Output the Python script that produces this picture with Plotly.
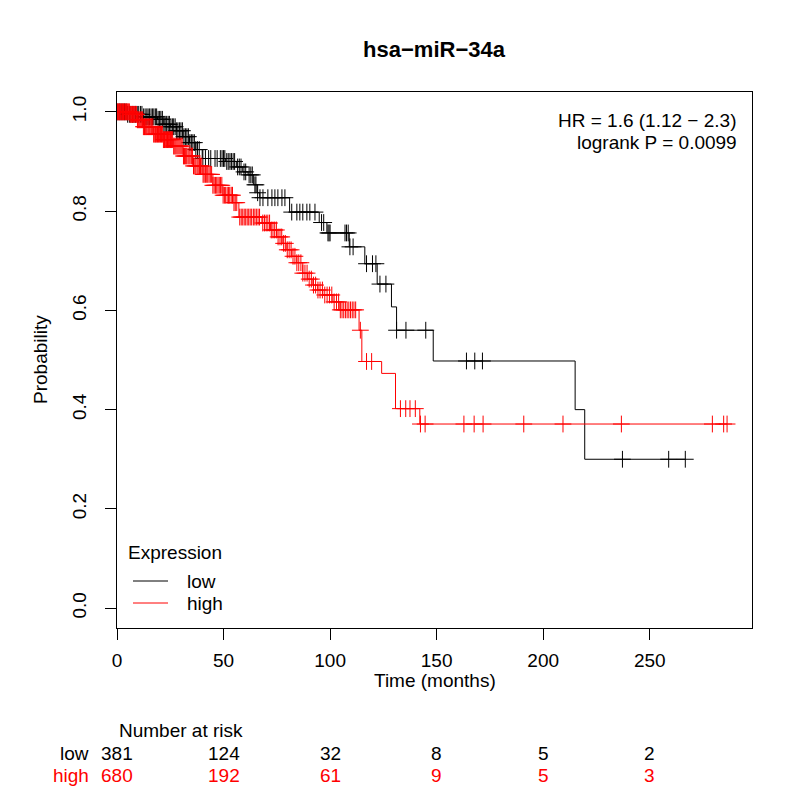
import numpy as np
import plotly.graph_objects as go

# Kaplan-Meier steps (months, survival probability)
low_times = [0, 5, 12, 19, 22, 25, 28, 31, 34, 37, 40, 51, 56, 59, 61.5, 64, 65.7, 67,
             81, 94.9, 98.5, 109.0, 116.3, 122.1, 128.8, 131.2, 148.4, 215.0, 219.5]
low_surv = [1.0, 0.995, 0.99, 0.985, 0.975, 0.97, 0.962, 0.95, 0.938, 0.924, 0.906, 0.9,
            0.889, 0.879, 0.873, 0.853, 0.837, 0.827, 0.798, 0.777, 0.756, 0.728, 0.694, 0.653,
            0.607, 0.560, 0.498, 0.400, 0.300]
low_censor = [0.5, 1.3, 2, 2.8, 3.5, 4.3, 5, 5.8, 6.5, 7.3, 8, 8.7, 9.5, 10.2, 11, 11.7, 12.5,
              13.2, 14, 14.6, 15.3, 16, 16.7, 17.3, 18, 18.6, 19.3, 20, 20.6, 21.3, 22, 22.6,
              23.3, 24, 24.6, 25.3, 26, 26.6, 27.3, 28, 28.6, 29.3, 30, 30.7, 31.4, 32.1, 32.8,
              33.5, 34.2, 34.9, 35.6, 36.3, 37, 37.8, 38.6, 40.3, 41.5, 43, 44, 46, 47, 48.5,
              49.3, 50, 50.6, 51.5, 52.2, 53, 53.7, 54.5, 55.2, 56.6, 57.4, 58.2, 59.6, 60.4,
              62, 62.8, 63.5, 64.7, 65.2, 66, 67.1, 68.5, 70.8, 72.7, 74.1, 75.5, 77.4, 78.8,
              82, 84.4, 85.8, 87.2, 89.1, 90.5, 92.9, 96, 97, 99, 99.5, 100, 107, 107.7, 108.5,
              109.3, 110.8, 117.1, 119.9, 121.5, 123.4, 126.2, 131.2, 135.6, 144.9, 164, 167.9,
              171.5, 237.2, 258.9, 266.7]

high_times = [0, 6, 9.4, 12.2, 16.9, 21.6, 26.3, 31, 35.6, 40.3, 45, 49.7, 54.4, 57.2, 68, 72,
              75, 77.5, 79.7, 82, 84.4, 87.2, 89.5, 91.9, 94.2, 96.6, 101.3, 104.6, 113.6, 114.9,
              124.2, 130.7, 142.1]
high_surv = [1.0, 0.995, 0.984, 0.970, 0.955, 0.944, 0.931, 0.911, 0.891, 0.874, 0.852, 0.832,
             0.817, 0.788, 0.776, 0.762, 0.748, 0.735, 0.722, 0.709, 0.696, 0.675, 0.663, 0.651,
             0.641, 0.631, 0.617, 0.601, 0.560, 0.497, 0.473, 0.402, 0.371]
high_censor = [0.2, 0.5, 0.9, 1.2, 1.6, 1.9, 2.3, 2.6, 3.0, 3.3, 3.7, 4.0, 4.4, 4.8, 5.1, 5.5,
               5.8, 6.2, 6.6, 6.9, 7.3, 7.7, 8.0, 8.4, 8.8, 9.1, 9.6, 10.0, 10.4, 10.8, 11.2,
               11.6, 12.0, 12.4, 12.9, 13.3, 13.7, 14.1, 14.6, 15.0, 15.4, 15.9, 16.3, 16.8,
               17.2, 17.7, 18.1, 18.6, 19.0, 19.5, 19.9, 20.4, 20.9, 21.3, 21.8, 22.3, 22.7,
               23.2, 23.7, 24.2, 24.6, 25.1, 25.6, 26.1, 26.6, 27.1, 27.6, 28.1, 28.6, 29.1,
               29.6, 30.1, 30.6, 31.2, 31.7, 32.2, 32.7, 33.3, 33.8, 34.3, 34.9, 35.4, 35.9,
               36.5, 37.0, 37.6, 38.1, 38.7, 39.2, 39.8, 40.4, 40.9, 41.5, 42.1, 42.6, 43.2,
               43.8, 44.4, 45.0, 45.6, 46.2, 46.8, 47.4, 48.0, 48.6, 49.2, 49.8, 50.4, 51.0,
               51.7, 52.3, 52.9, 53.6, 54.2, 54.9, 55.5, 56.2, 57.6, 58.3, 59.0, 59.7, 60.4,
               61.1, 61.8, 62.5, 63.2, 64.0, 64.7, 65.4, 66.2, 66.9, 68.4, 69.2, 70.0, 70.8,
               71.6, 72.4, 73.2, 74.0, 74.8, 75.6, 76.5, 77.3, 78.2, 79.0, 79.9, 80.8, 81.7,
               82.6, 83.5, 84.4, 85.3, 86.3, 87.2, 88.2, 89.2, 90.2, 91.2, 92.2, 93.2, 94.3,
               95.3, 96.4, 97.5, 98.6, 99.7, 100.8, 101.9, 103.0, 104.0, 104.8, 105.6, 106.4,
               107.2, 108.0, 108.8, 109.6, 110.4, 111.2, 112.0, 114.2, 117.1, 119.5, 133,
               135.5, 137.5, 140, 142.4, 144.6, 162.8, 167.6, 171.8, 190.9, 209.3, 236.7,
               279.4, 284.7, 286.3]

risk_times = [0, 50, 100, 150, 200, 250]
risk_low = [381, 124, 32, 8, 5, 2]
risk_high = [680, 192, 61, 9, 5, 3]

FONT = "Liberation Sans, Arial, sans-serif"
RED = "#FF0000"
FS = 19

# plot box in reference pixels; the page body adds an 8px offset
OFF = 8
PL, PR, PT, PB = 117, 752, 92, 628
PH = PB - PT


def py(pix):
    # reference pixel row -> paper y
    return (PB - pix) / PH


def px(pix):
    return (pix - PL) / (PR - PL)


def step_at(times, surv, t):
    idx = np.searchsorted(np.array(times), np.array(t), side="right") - 1
    return np.array(surv)[idx]


fig = go.Figure()

for name, times, surv, cens, color in [
    ("low", low_times, low_surv, low_censor, "black"),
    ("high", high_times, high_surv, high_censor, RED),
]:
    xs = list(times) + [max(cens)]
    ys = list(surv) + [surv[-1]]
    fig.add_trace(go.Scatter(x=xs, y=ys, mode="lines", line=dict(color=color, width=1, shape="hv"),
                             name=name, showlegend=False, hoverinfo="skip"))
    fig.add_trace(go.Scatter(x=cens, y=step_at(times, surv, cens), mode="markers",
                             marker=dict(symbol="cross-thin", size=12, line=dict(color=color, width=1)),
                             showlegend=False, hoverinfo="skip"))

ann = []
ann.append(dict(text="HR = 1.6 (1.12 − 2.3)", x=px(739), y=py(120), xanchor="right", yanchor="middle"))
ann.append(dict(text="logrank P = 0.0099", x=px(739), y=py(142), xanchor="right", yanchor="middle"))
ann.append(dict(text="Probability", x=px(40), y=0.5, textangle=-90, xanchor="center", yanchor="middle"))
ann.append(dict(text="Time (months)", x=0.5, y=py(680), xanchor="center", yanchor="middle"))
ann.append(dict(text="Number at risk", x=0, y=py(730), xanchor="left", yanchor="middle"))
ann.append(dict(text="low", x=px(91), y=py(753), xanchor="right", yanchor="middle"))
ann.append(dict(text="high", x=px(91), y=py(775), xanchor="right", yanchor="middle", font=dict(color=RED)))
for t, lo, hi in zip(risk_times, risk_low, risk_high):
    ann.append(dict(text=str(lo), x=t, xref="x", y=py(753), xanchor="center", yanchor="middle"))
    ann.append(dict(text=str(hi), x=t, xref="x", y=py(775), xanchor="center", yanchor="middle",
                    font=dict(color=RED)))

# legend drawn by hand, like R's legend()
ann.append(dict(text="Expression", x=px(126), y=py(552), xanchor="left", yanchor="middle"))
shapes = []
for label, color, row in [("low", "black", 581), ("high", RED, 603)]:
    ann.append(dict(text=label, x=px(185), y=py(row), xanchor="left", yanchor="middle"))
    shapes.append(dict(type="line", xref="paper", yref="paper", x0=px(133), x1=px(168),
                       y0=py(row), y1=py(row), line=dict(color=color, width=1)))

for a in ann:
    a.setdefault("xref", "paper")
    a.setdefault("yref", "paper")
    a["showarrow"] = False
    f = dict(family=FONT, size=FS, color="black")
    f.update(a.get("font", {}))
    a["font"] = f

fig.update_layout(
    width=800, height=800,
    margin=dict(l=PL - OFF, r=800 - PR + OFF, t=PT - OFF, b=800 - PB + OFF),
    paper_bgcolor="white", plot_bgcolor="white",
    font=dict(family=FONT, size=FS, color="black"),
    title=dict(text="<b>hsa−miR−34a</b>", x=px(434), xref="paper", y=1 - (49 - OFF) / 800,
               yref="container", xanchor="center", yanchor="middle", font=dict(family=FONT, size=22)),
    annotations=ann,
    shapes=shapes,
    showlegend=False,
    xaxis=dict(range=[0, 298], tickvals=[0, 50, 100, 150, 200, 250], ticks="outside", ticklen=11,
               tickcolor="black", showline=True, linecolor="black", linewidth=1, mirror=True,
               showgrid=False, zeroline=False, ticklabelstandoff=4, tickfont=dict(size=FS)),
    yaxis=dict(range=[-0.04, 1.04], tickvals=[0, 0.2, 0.4, 0.6, 0.8, 1.0],
               ticktext=["0.0", "0.2", "0.4", "0.6", "0.8", "1.0"], tickangle=-90,
               ticks="outside", ticklen=11, tickcolor="black", showline=True, linecolor="black",
               linewidth=1, mirror=True, showgrid=False, zeroline=False, ticklabelstandoff=11,
               tickfont=dict(size=FS)),
)

fig.write_html("out.html")
